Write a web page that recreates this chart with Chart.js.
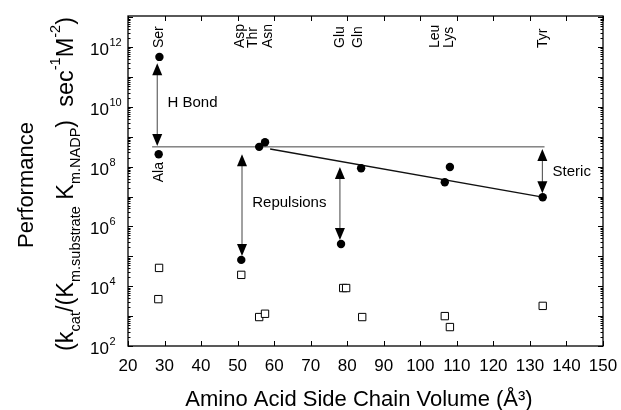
<!DOCTYPE html>
<html><head><meta charset="utf-8">
<script src="https://cdn.jsdelivr.net/npm/chart.js@4"></script>
<style>html,body{margin:0;padding:0;background:#fff}</style>
</head><body>
<canvas id="c" width="621" height="410"></canvas>
<script>
// ---- data ----
const residues = ['Ser','Ala','Asp','Thr','Asn','Glu','Gln','Leu','Lys','Tyr'];
const residueVolume = [28.6, 28.4, 51.0, 55.9, 57.5, 78.3, 83.8, 106.7, 108.1, 133.5];
const performance = [4.7e11, 2.6e8, 7.6e4, 4.6e8, 6.6e8, 2.6e5, 8.9e7, 3.0e7, 9.8e7, 9.5e6];
const controlVolume = [28.5, 28.3, 51.0, 55.9, 57.5, 78.9, 79.7, 84.1, 106.7, 108.1, 133.5];
const controlPerf = [4.1e4, 3.7e3, 2.4e4, 9.3e2, 1.2e3, 8.7e3, 8.7e3, 9.3e2, 1.0e3, 4.3e2, 2.2e3];
const baselineX = [26.6, 134.0];
const baselineY = [4.6e8, 4.6e8];
const trendX = [58.9, 133.5];
const trendY = [3.9e8, 9.5e6];
const arrowX = [28.0, 51.2, 78.0, 133.4];
const arrowTop = [2.9e11, 2.6e8, 9.8e7, 3.9e8];
const arrowBottom = [4.9e8, 1.02e5, 3.5e5, 1.3e7];
const noteText = ['H Bond', 'Repulsions', 'Steric'];
const noteX = [30.8, 54.0, 136.2];
const noteY = [1.35e10, 6.0e6, 6.6e7];
const topLabels = ['Ser','Asp','Thr','Asn','Glu','Gln','Leu','Lys','Tyr'];
const topLabelX = [28.6, 50.7, 54.3, 58.4, 78.0, 82.9, 104.0, 107.9, 133.5];
const sideLabel = 'Ala';
const xTicks = [20,30,40,50,60,70,80,90,100,110,120,130,140,150];
const yTickExp = [2,4,6,8,10,12];
const xMin = 20, xMax = 150, yMin = 1e2, yMax = 1.1e13;
const yTitle1 = 'Performance';
const yTitle2 = [['(k',0],['cat',1],['/(K',0],['m.substrate',1],[' K',0],['m.NADP',1],[')  sec',0],['-1',2],['M',0],['-2',2],[')',0]];
const xTitle = 'Amino Acid Side Chain Volume (\u00C5\u00B3)';

const FONT = '"Liberation Sans", Arial, Helvetica, sans-serif';

const pts = (xa, ya) => xa.map((x, i) => ({x, y: ya[i]}));

const deco = {
  id: 'deco',
  afterDraw(chart) {
    const ctx = chart.ctx, ca = chart.chartArea;
    const xs = chart.scales.x, ys = chart.scales.y;
    ctx.save();
    ctx.strokeStyle = '#000';
    ctx.fillStyle = '#000';
    // frame
    ctx.lineWidth = 1.3;
    ctx.strokeRect(ca.left, ca.top, ca.right - ca.left, ca.bottom - ca.top);
    // x ticks (inward, bottom and top)
    ctx.lineWidth = 1;
    ctx.beginPath();
    xTicks.forEach(t => {
      const p = Math.round(xs.getPixelForValue(t)) + 0.5;
      ctx.moveTo(p, ca.bottom); ctx.lineTo(p, ca.bottom - 5);
      ctx.moveTo(p, ca.top); ctx.lineTo(p, ca.top + 5);
    });
    // y ticks log major + minor, both sides
    for (let e = 2; e <= 13; e++) {
      for (let m = 1; m <= 9; m++) {
        const v = m * Math.pow(10, e);
        if (v > yMax) break;
        const p = Math.round(ys.getPixelForValue(v)) + 0.5;
        const len = m === 1 ? 5 : 2.5;
        ctx.moveTo(ca.left, p); ctx.lineTo(ca.left + len, p);
        ctx.moveTo(ca.right, p); ctx.lineTo(ca.right - len, p);
      }
    }
    ctx.stroke();
    // y tick labels 10^n
    yTickExp.forEach(e => {
      const p = ys.getPixelForValue(Math.pow(10, e));
      ctx.font = '17px ' + FONT;
      ctx.textAlign = 'right'; ctx.textBaseline = 'alphabetic';
      ctx.fillText('10', 109, p + 8);
      ctx.font = '11px ' + FONT;
      ctx.textAlign = 'left';
      ctx.fillText(String(e), 109.5, p - 1);
    });
    // arrows
    arrowX.forEach((ax, i) => {
      const x = xs.getPixelForValue(ax);
      const y1 = ys.getPixelForValue(arrowTop[i]);
      const y2 = ys.getPixelForValue(arrowBottom[i]);
      ctx.strokeStyle = '#444'; ctx.lineWidth = 1;
      ctx.beginPath(); ctx.moveTo(x, y1 + 6); ctx.lineTo(x, y2 - 6); ctx.stroke();
      ctx.fillStyle = '#000';
      ctx.beginPath(); ctx.moveTo(x, y1); ctx.lineTo(x - 5, y1 + 12); ctx.lineTo(x + 5, y1 + 12); ctx.closePath(); ctx.fill();
      ctx.beginPath(); ctx.moveTo(x, y2); ctx.lineTo(x - 5, y2 - 12); ctx.lineTo(x + 5, y2 - 12); ctx.closePath(); ctx.fill();
    });
    // notes
    ctx.fillStyle = '#000';
    ctx.font = '15px ' + FONT;
    ctx.textAlign = 'left'; ctx.textBaseline = 'middle';
    noteText.forEach((t, i) => {
      ctx.fillText(t, xs.getPixelForValue(noteX[i]), ys.getPixelForValue(noteY[i]));
    });
    // rotated residue labels
    ctx.font = '14px ' + FONT;
    const rot = (txt, x, y) => {
      ctx.save(); ctx.translate(x, y); ctx.rotate(-Math.PI / 2);
      ctx.textAlign = 'left'; ctx.textBaseline = 'middle';
      ctx.fillText(txt, 0, 0); ctx.restore();
    };
    topLabels.forEach((t, i) => rot(t, xs.getPixelForValue(topLabelX[i]), ca.top + 32));
    const ai = residues.indexOf(sideLabel);
    rot(sideLabel, xs.getPixelForValue(residueVolume[ai]), ys.getPixelForValue(performance[ai]) + 28);
    // y title line 1
    ctx.save(); ctx.translate(33, 185); ctx.rotate(-Math.PI / 2);
    ctx.font = '22px ' + FONT; ctx.textAlign = 'center'; ctx.textBaseline = 'alphabetic';
    ctx.fillText(yTitle1, 0, 0); ctx.restore();
    // y title line 2 (rich)
    const sizes = [23.5, 14.5, 14.5];
    const shifts = [0, 7, -13];
    let total = 0;
    yTitle2.forEach(([t, k]) => { ctx.font = sizes[k] + 'px ' + FONT; total += ctx.measureText(t).width; });
    ctx.save(); ctx.translate(73, 184); ctx.rotate(-Math.PI / 2);
    ctx.textAlign = 'left'; ctx.textBaseline = 'alphabetic';
    let cx = -total / 2;
    yTitle2.forEach(([t, k]) => {
      ctx.font = sizes[k] + 'px ' + FONT;
      ctx.fillText(t, cx, shifts[k]);
      cx += ctx.measureText(t).width;
    });
    ctx.restore();
    // x title
    ctx.font = '22px ' + FONT; ctx.textAlign = 'center'; ctx.textBaseline = 'alphabetic';
    ctx.fillText(xTitle, 359, 406);
    ctx.restore();
  }
};

new Chart(document.getElementById('c'), {
  type: 'scatter',
  data: {
    datasets: [
      { data: pts(residueVolume, performance), pointRadius: 4.2, pointHoverRadius: 4.2,
        backgroundColor: '#000', borderColor: '#000', borderWidth: 0, order: 0 },
      { data: pts(controlVolume, controlPerf), pointStyle: 'rect', pointRadius: 5.2, pointHoverRadius: 5.2,
        backgroundColor: '#fff', borderColor: '#000', borderWidth: 1, order: 1 },
      { data: pts(baselineX, baselineY), showLine: true, pointRadius: 0, borderColor: '#444', borderWidth: 1, order: 2 },
      { data: pts(trendX, trendY), showLine: true, pointRadius: 0, borderColor: '#111', borderWidth: 1.3, order: 2 }
    ]
  },
  options: {
    responsive: false, animation: false, devicePixelRatio: 1,
    layout: { padding: { left: 128, right: 18, top: 16, bottom: 0 } },
    plugins: { legend: { display: false }, tooltip: { enabled: false } },
    scales: {
      x: {
        type: 'linear', min: xMin, max: xMax,
        grid: { display: false }, border: { display: false },
        ticks: { stepSize: 10, color: '#000', font: { size: 17, family: FONT }, padding: 2, maxRotation: 0, autoSkip: false },
        afterFit(s) { s.height = 64; }
      },
      y: {
        type: 'logarithmic', min: yMin, max: yMax, display: false
      }
    }
  },
  plugins: [deco]
});
</script>
</body></html>
